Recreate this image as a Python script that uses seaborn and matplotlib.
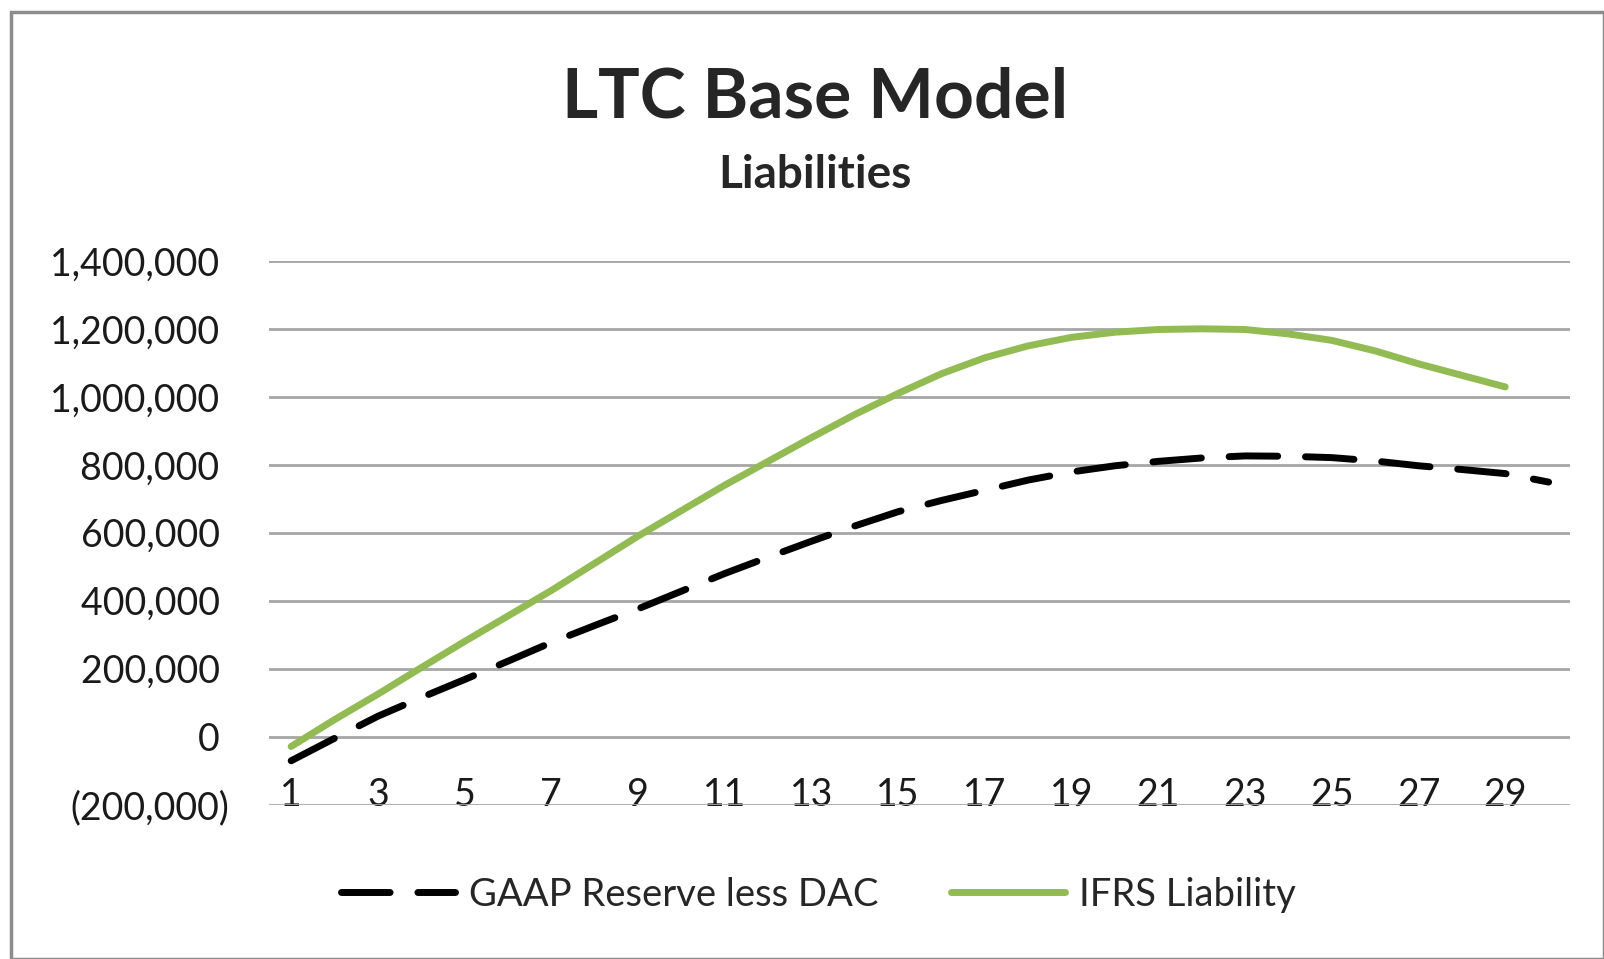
import pandas as pd
import numpy as np
import matplotlib.pyplot as plt
import seaborn as sns
from matplotlib.lines import Line2D
from matplotlib.patches import Rectangle
from matplotlib.ticker import FuncFormatter

# values
years_gaap = list(range(1, 31))
gaap_reserve = [-71000, -5000, 60000, 115000, 168000, 222000, 277000, 327000, 376000, 428000,
                480000, 528000, 575000, 620000, 662000, 695000, 725000, 755000, 779000, 797000,
                810000, 820000, 826000, 825000, 821000, 811000, 797000, 786000, 774000, 749000]
years_ifrs = list(range(1, 30))
ifrs_liability = [-29000, 50000, 125000, 203000, 280000, 355000, 430000, 510000, 590000, 665000,
                  740000, 810000, 880000, 948000, 1010000, 1068000, 1115000, 1150000, 1175000, 1190000,
                  1198000, 1200000, 1198000, 1185000, 1166000, 1135000, 1097000, 1063000, 1029000]

yticks = [-200000, 0, 200000, 400000, 600000, 800000, 1000000, 1200000, 1400000]
xtick_labels = list(range(1, 30, 2))

gaap_df = pd.DataFrame({'year': years_gaap, 'value': gaap_reserve})
ifrs_df = pd.DataFrame({'year': years_ifrs, 'value': ifrs_liability})

sns.set_style('white')
plt.rcParams['font.family'] = ['Lato', 'DejaVu Sans']

green = '#92BB54'
lw = 5

fig = plt.figure(figsize=(16.04, 9.59), dpi=100)
ax = fig.add_axes([0.168, 0.161, 0.811, 0.567])

sns.lineplot(data=gaap_df, x='year', y='value', ax=ax, color='black', lw=lw)
ax.lines[-1].set_dashes([7, 4])
ax.lines[-1].set_dash_capstyle('round')
sns.lineplot(data=ifrs_df, x='year', y='value', ax=ax, color=green, lw=lw,
             solid_capstyle='round')

ax.set_xlim(0.5, 30.5)
ax.set_ylim(-200000, 1400000)
ax.set_yticks(yticks)
ax.set_xticks(xtick_labels)
ax.set_xticklabels([str(v) for v in xtick_labels])

def fmt(v, pos):
    if v < 0:
        return '({:,.0f})'.format(-v)
    return '{:,.0f} '.format(v)

ax.yaxis.set_major_formatter(FuncFormatter(fmt))
ax.grid(axis='y', color='#a6a6a6', lw=2)
ax.grid(axis='x', visible=False)
for s in ax.spines.values():
    s.set_visible(False)
ax.tick_params(axis='y', length=0, pad=29, labelsize=27, colors='#1a1a1a')
ax.tick_params(axis='x', length=0, pad=-20, labelsize=27, colors='#1a1a1a')
ax.set_xlabel('')
ax.set_ylabel('')

fig.text(0.508, 0.898, 'LTC Base Model', ha='center', va='center',
         fontsize=50, fontweight='bold')
fig.text(0.508, 0.818, 'Liabilities', ha='center', va='center',
         fontsize=33, fontweight='bold')

handles = [Line2D([], [], color='black', lw=lw, dashes=[7, 4], dash_capstyle='round'),
           Line2D([], [], color=green, lw=lw)]
fig.legend(handles, ['GAAP Reserve less DAC', 'IFRS Liability'], loc='center',
           bbox_to_anchor=(0.51, 0.067), ncol=2, frameon=False, fontsize=27.5,
           handlelength=3.0, handletextpad=0.35, columnspacing=1.9)

fig.patches.append(Rectangle((0.007, 0.0), 0.993, 0.988, transform=fig.transFigure,
                             fill=False, edgecolor='#8c8c8c', lw=2.5))

fig.savefig('out.png', dpi=100)
